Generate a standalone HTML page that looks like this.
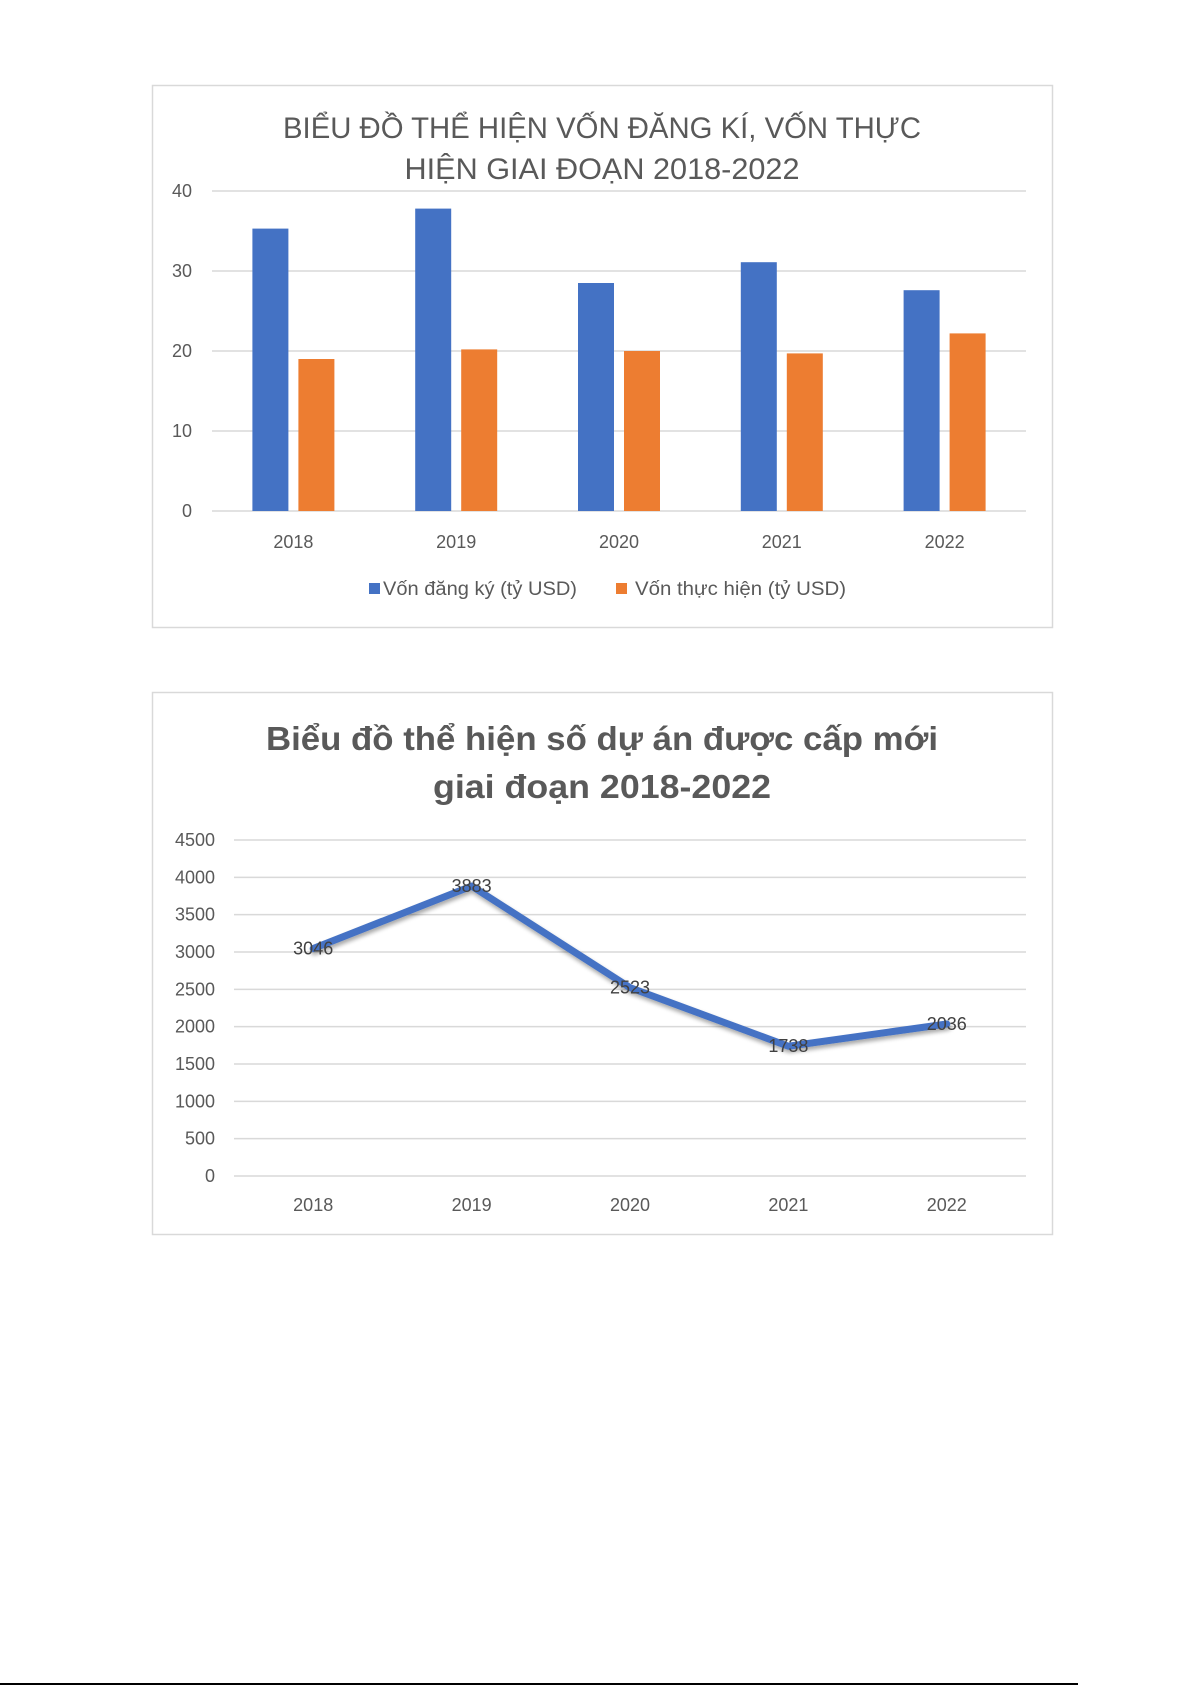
<!DOCTYPE html>
<html><head><meta charset="utf-8">
<style>
html,body{margin:0;padding:0;background:#fff;}
svg{display:block;}
text{font-family:"Liberation Sans Narrow","Liberation Sans","DejaVu Sans",sans-serif;}
</style></head>
<body>
<svg id="svg" width="1192" height="1685" viewBox="0 0 1192 1685" xmlns="http://www.w3.org/2000/svg">
  <g id="c1">
    <rect x="152.5" y="85.5" width="900" height="542" fill="#fff" stroke="#d9d9d9" stroke-width="1.5"/>
    <text x="602" y="138" text-anchor="middle" font-size="30" fill="#595959" textLength="638" lengthAdjust="spacingAndGlyphs">BIỂU ĐỒ THỂ HIỆN VỐN ĐĂNG KÍ, VỐN THỰC</text>
    <text x="602" y="179" text-anchor="middle" font-size="30" fill="#595959" textLength="395" lengthAdjust="spacingAndGlyphs">HIỆN GIAI ĐOẠN 2018-2022</text>
    <g id="c1grid"></g><g id="c1bars"></g><g id="c1lab"></g>
    <rect x="369" y="583" width="11" height="11" fill="#4472C4"/>
    <text x="383" y="595" font-size="19" fill="#595959" textLength="194" lengthAdjust="spacingAndGlyphs">Vốn đăng ký (tỷ USD)</text>
    <rect x="616" y="583" width="11" height="11" fill="#ED7D31"/>
    <text x="635" y="595" font-size="19" fill="#595959" textLength="211" lengthAdjust="spacingAndGlyphs">Vốn thực hiện (tỷ USD)</text>
  </g>
  <g id="c2">
    <rect x="152.5" y="692.5" width="900" height="542" fill="#fff" stroke="#d9d9d9" stroke-width="1.5"/>
    <text x="602" y="750" text-anchor="middle" font-size="33" font-weight="bold" fill="#595959" textLength="672" lengthAdjust="spacingAndGlyphs">Biểu đồ thể hiện số dự án được cấp mới</text>
    <text x="602" y="798" text-anchor="middle" font-size="33" font-weight="bold" fill="#595959" textLength="338" lengthAdjust="spacingAndGlyphs">giai đoạn 2018-2022</text>
    <defs><filter id="sh" x="-10%" y="-10%" width="120%" height="130%"><feGaussianBlur in="SourceAlpha" stdDeviation="2"/><feOffset dx="1" dy="3"/><feComponentTransfer><feFuncA type="linear" slope="0.35"/></feComponentTransfer><feMerge><feMergeNode/><feMergeNode in="SourceGraphic"/></feMerge></filter></defs>
    <g id="c2grid"></g><g id="c2line"></g><g id="c2lab"></g>
  </g>
  <line x1="0" y1="1684" x2="1078" y2="1684" stroke="#000" stroke-width="2"/>
</svg>
<script>
const years = ["2018","2019","2020","2021","2022"];
const registered = [35.3, 37.8, 28.5, 31.1, 27.6];
const implemented = [19.0, 20.2, 20.0, 19.7, 22.2];
const ticks1 = [0,10,20,30,40];
const projects = [3046, 3883, 2523, 1738, 2036];
const ticks2 = [0,500,1000,1500,2000,2500,3000,3500,4000,4500];

const NS = "http://www.w3.org/2000/svg";
function mk(tag, attrs, parent, txt){
  const e = document.createElementNS(NS, tag);
  for (const k in attrs) e.setAttribute(k, attrs[k]);
  if (txt !== undefined) e.textContent = txt;
  parent.appendChild(e); return e;
}
// Chart 1 axes
const p1 = {x0:212, x1:1026, y0:511, y1:191, max:40};
const y1f = v => p1.y0 - (v/p1.max)*(p1.y0-p1.y1);
const bw1 = (p1.x1-p1.x0)/years.length;
const x1c = i => p1.x0 + bw1*(i+0.5);
const g1 = document.getElementById('c1grid');
ticks1.forEach(t=>{
  const l = mk('line',{x1:p1.x0,x2:p1.x1,y1:y1f(t),y2:y1f(t),stroke:'#d9d9d9','stroke-width':1.5},g1);
  
  
  const tx = mk('text',{x:192,y:y1f(t)+6,'text-anchor':'end','font-size':18,fill:'#595959'},g1,String(t));
  
  
});
const gb = document.getElementById('c1bars');
const gl = document.getElementById('c1lab');
years.forEach((yr,i)=>{
  const c = x1c(i);
  const b1 = mk('rect',{x:c-41,y:y1f(registered[i]),width:36,height:p1.y0-y1f(registered[i]),fill:'#4472C4'},gb);
  
  
  const b2 = mk('rect',{x:c+5,y:y1f(implemented[i]),width:36,height:p1.y0-y1f(implemented[i]),fill:'#ED7D31'},gb);
  
  
  const t = mk('text',{x:c,y:548,'text-anchor':'middle','font-size':18,fill:'#595959'},gl,yr);
  
  
});
// Chart 2 axes
const p2 = {x0:234, x1:1026, y0:1176, y1:840, max:4500};
const y2f = v => p2.y0 - (v/p2.max)*(p2.y0-p2.y1);
const bw2 = (p2.x1-p2.x0)/years.length;
const x2c = i => p2.x0 + bw2*(i+0.5);
const g2 = document.getElementById('c2grid');
ticks2.forEach(t=>{
  const l = mk('line',{x1:p2.x0,x2:p2.x1,y1:y2f(t),y2:y2f(t),stroke:'#d9d9d9','stroke-width':1.5},g2);
  
  
  const tx = mk('text',{x:215,y:y2f(t)+6,'text-anchor':'end','font-size':18,fill:'#595959'},g2,String(t));
  
  
});
const gL = document.getElementById('c2line');
const pts = projects.map((v,i)=>x2c(i)+','+y2f(v)).join(' ');
const pl = mk('polyline',{points:pts,fill:'none',stroke:'#4472C4','stroke-width':7,'stroke-linejoin':'round','stroke-linecap':'round',filter:'url(#sh)'},gL);


const gl2 = document.getElementById('c2lab');
years.forEach((yr,i)=>{
  const d = mk('text',{x:x2c(i),y:y2f(projects[i])+6,'text-anchor':'middle','font-size':18,fill:'#404040'},gl2,String(projects[i]));
  
  
  const t = mk('text',{x:x2c(i),y:1211,'text-anchor':'middle','font-size':18,fill:'#595959'},gl2,yr);
  
  
});
</script>
</body></html>
